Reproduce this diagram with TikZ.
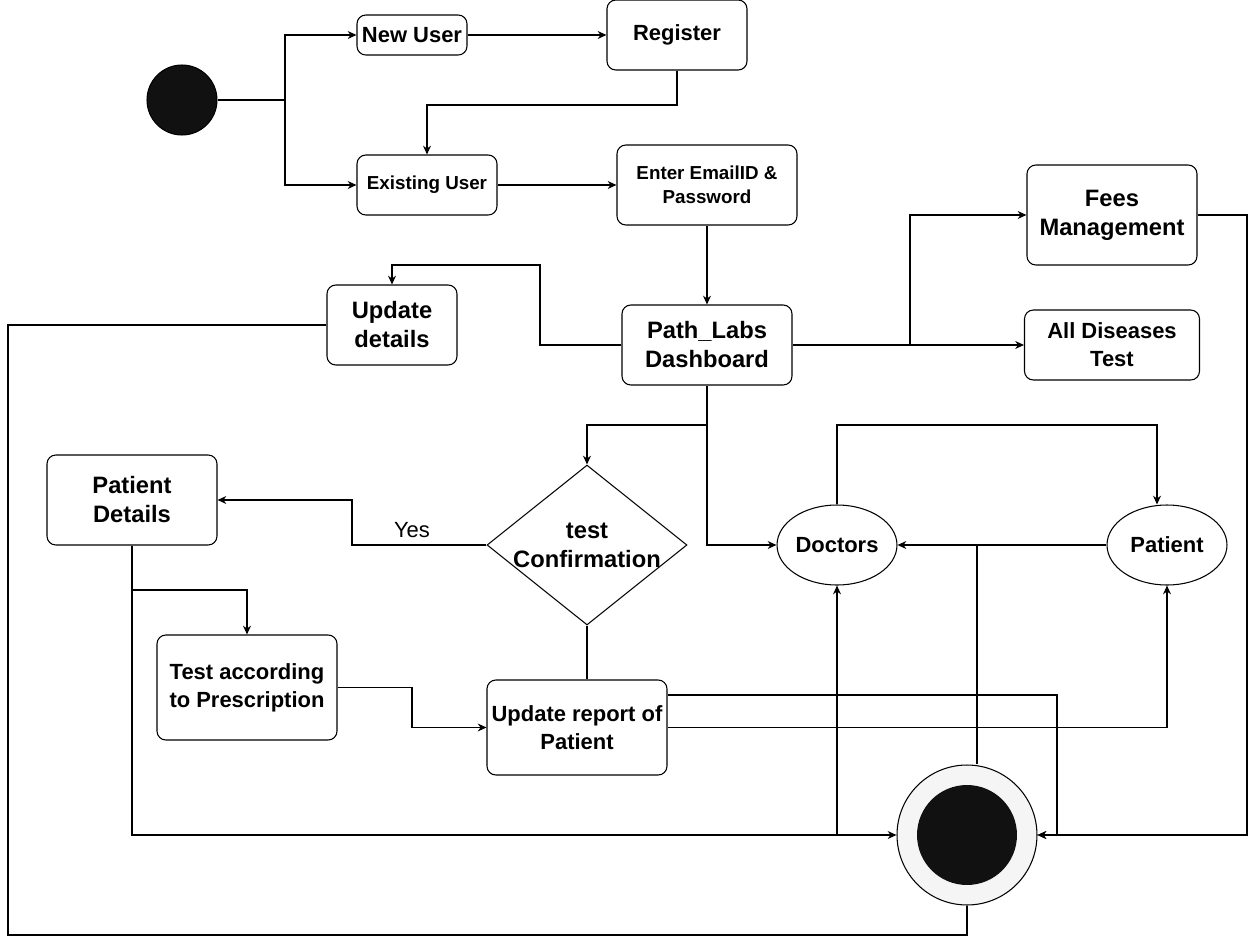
\documentclass[tikz,border=0pt]{standalone}
\usepackage{fontspec}
\setmainfont{Liberation Sans}
\usepackage{tikz}
\usetikzlibrary{positioning, calc, arrows.meta, shapes.geometric}

\definecolor{dotfill}{HTML}{111111}
\definecolor{ringfill}{HTML}{F5F5F5}

\tikzset{
    actbox/.style={draw, rounded corners=5pt, align=center, inner sep=0pt, font=\bfseries},
    usecase/.style={draw, ellipse, align=center, inner sep=0pt, font=\bfseries},
    bigtxt/.style={font=\fontsize{13.5}{16.5}\selectfont\bfseries},
    midtxt/.style={font=\fontsize{12.5}{16}\selectfont\bfseries},
    smalltxt/.style={font=\fontsize{10.7}{13.7}\selectfont\bfseries},
    arr/.style={-{Stealth[length=5pt,width=4.5pt]}},
}

\begin{document}
\begin{tikzpicture}[x=0.02cm, y=-0.02cm, line width=0.6pt]

    \useasboundingbox (0,0) rectangle (1259,947);

    % ================= Login =================
    \node[circle, draw, fill=dotfill, minimum size=1.4cm, inner sep=0pt] (start) at (182,100) {};
    \node[actbox, midtxt, minimum width=2.2cm, minimum height=0.8cm] (newuser) at (412,35) {New User};
    \node[actbox, midtxt, minimum width=2.8cm, minimum height=1.4cm] (register) at (677,35) {Register};
    \node[actbox, smalltxt, minimum width=2.8cm, minimum height=1.2cm] (existing) at (427,185) {Existing User};
    \node[actbox, smalltxt, minimum width=3.6cm, minimum height=1.6cm] (enter) at (707,185) {Enter EmailID \&\\Password};

    % ================= Dashboard =================
    \node[actbox, bigtxt, minimum width=3.4cm, minimum height=1.6cm] (dash) at (707,345) {Path\_Labs\\Dashboard};
    \node[actbox, bigtxt, minimum width=2.6cm, minimum height=1.6cm] (upd) at (392,325) {Update\\details};
    \node[actbox, bigtxt, minimum width=3.4cm, minimum height=2.0cm] (fees) at (1112,215) {Fees\\Management};
    \node[actbox, midtxt, minimum width=3.5cm, minimum height=1.4cm] (alltest) at (1112,345) {All Diseases\\Test};

    % ================= Tests and reports =================
    \node[actbox, bigtxt, minimum width=3.4cm, minimum height=1.8cm] (pdetails) at (132,500) {Patient\\Details};
    \node[diamond, draw, minimum width=4cm, minimum height=3.2cm, inner sep=0pt,
          label={[bigtxt, align=center]center:test\\Confirmation}] (confirm) at (587,545) {};
    \node[actbox, midtxt, minimum width=3.6cm, minimum height=2.1cm] (testpres) at (247,687.5) {Test according\\to Prescription};
    \node[actbox, midtxt, minimum width=3.6cm, minimum height=1.9cm] (report) at (577,727.5) {Update report of\\Patient};
    \node[usecase, midtxt, minimum width=2.4cm, minimum height=1.6cm] (doctors) at (837,545) {Doctors};
    \node[usecase, midtxt, minimum width=2.4cm, minimum height=1.6cm] (patient) at (1167,545) {Patient};

    % End state
    \node[circle, draw, fill=ringfill, minimum size=2.8cm, inner sep=0pt] (endnode) at (967,835) {};
    \node[circle, fill=dotfill, minimum size=2.0cm, inner sep=0pt] (enddot) at (endnode) {};

    % Bend points
    \coordinate (split1) at (285,100);
    \coordinate (regbend) at (677,105);
    \coordinate (updbend) at (540,265);
    \coordinate (feesplit) at (910,345);
    \coordinate (dashsplit) at (707,425);
    \coordinate (yesbend) at (352,545);
    \coordinate (pdsplit) at (132,590);
    \coordinate (tpbend) at (412,687.5);
    \coordinate (repbend) at (1057,695);
    \coordinate (dptop) at (1157,425);
    \coordinate (endup) at (977,545);
    \coordinate (loopcorner) at (8,935);
    \coordinate (feesbend) at (1247,215);

    % ================= Connectors =================
    \draw (start) -- (split1);
    \draw[arr] (split1) |- (newuser);
    \draw[arr] (split1) |- (existing);
    \draw[arr] (newuser) -- (register);
    \draw[arr] (register.south) -- (regbend) -| (existing.north);
    \draw[arr] (existing) -- (enter);
    \draw[arr] (enter) -- (dash);

    \draw[arr] (dash.west) -| (updbend) -| (upd.north);
    \draw[arr] (dash.east) -- (alltest.west);
    \draw[arr] (feesplit) |- (fees.west);

    \draw (dash.south) -- (dashsplit);
    \draw[arr] (dashsplit) -| (confirm.north);
    \draw[arr] (dashsplit) |- (doctors.west);

    \draw[arr] (confirm.west) -- (yesbend) |- (pdetails.east);
    \node (yes) at (412,530) {\fontsize{12.5}{15}\selectfont Yes};

    \draw (pdetails.south) -- (pdsplit);
    \draw[arr] (pdsplit) -| (testpres.north);
    \draw[arr] (pdsplit) |- (endnode.west);
    \draw[arr] (testpres.east) -- (tpbend) |- (report.west);
    \draw (confirm.south) -- (confirm.south |- report.north);

    \draw[arr] (report.east |- repbend) -- (repbend) |- (endnode.east);
    \draw[arr] (report.east) -| (patient.south);

    \draw[arr] (doctors.north) |- (dptop) -- (dptop |- patient.north);
    \draw[arr] (patient.west) -- (doctors.east);
    \draw (endup |- endnode.north) -- (endup);
    \draw[arr] (doctors.south |- endnode.west) -- (doctors.south);

    \draw (upd.west) -| (loopcorner) -| (endnode.south);
    \draw[arr] (fees.east) -- (feesbend) |- (endnode.east);

\end{tikzpicture}
\end{document}
